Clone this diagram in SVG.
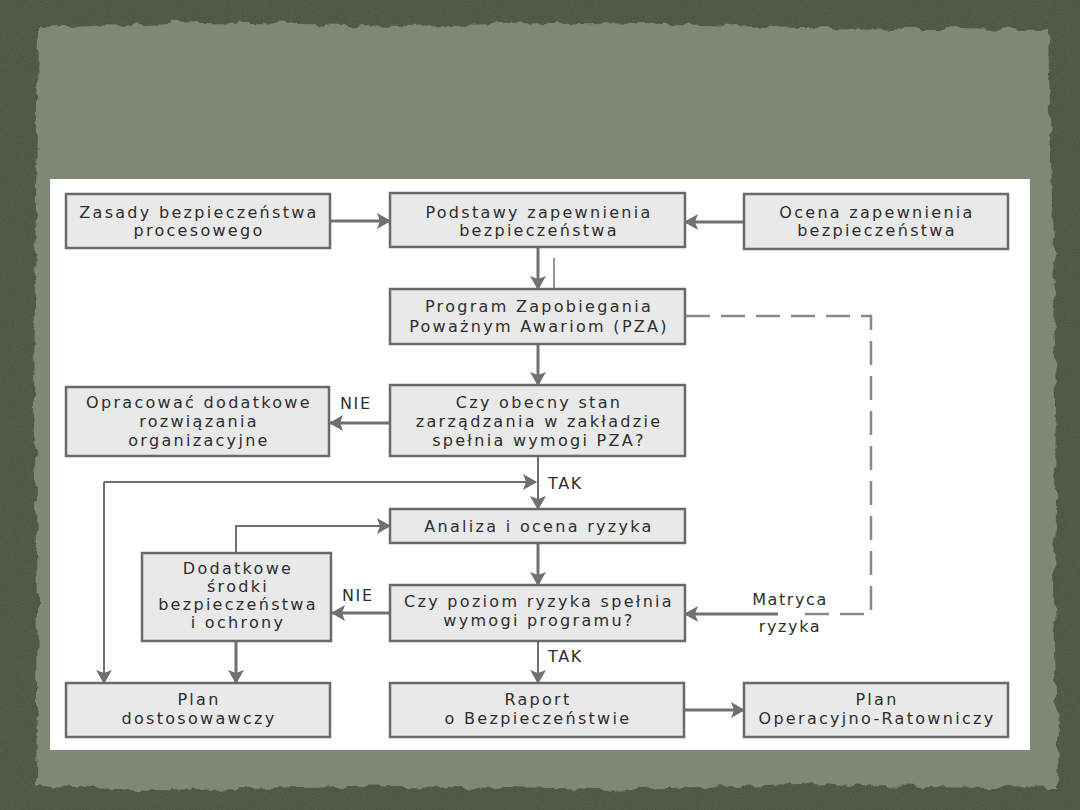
<svg xmlns="http://www.w3.org/2000/svg" width="1080" height="810" viewBox="0 0 1080 810">
<defs>
<filter id="grain" x="0" y="0" width="100%" height="100%">
<feTurbulence type="fractalNoise" baseFrequency="0.9" numOctaves="2" seed="3" result="n"/>
<feColorMatrix in="n" type="matrix" values="0 0 0 0 0  0 0 0 0 0  0 0 0 0 0  0 0 0 0.35 0" result="a"/>
<feComposite in="a" in2="SourceGraphic" operator="in" result="b"/>
<feMerge><feMergeNode in="SourceGraphic"/><feMergeNode in="b"/></feMerge>
</filter>
<filter id="rough" x="-2%" y="-2%" width="104%" height="104%">
<feTurbulence type="fractalNoise" baseFrequency="0.06" numOctaves="3" seed="7" result="t"/>
<feDisplacementMap in="SourceGraphic" in2="t" scale="10" xChannelSelector="R" yChannelSelector="G"/>
</filter>
<marker id="ah" viewBox="0 0 14 16" refX="13" refY="8" markerWidth="14" markerHeight="16" markerUnits="userSpaceOnUse" orient="auto">
<path d="M0,0 L14,8 L0,16 L3,8 z" fill="#707070"/>
</marker>
<style>
.box{fill:#e9e9e9;stroke:#6a6a6a;stroke-width:2.5}
.t{font-family:"DejaVu Sans",sans-serif;font-size:16px;letter-spacing:2.3px;fill:#2e2e2e;text-anchor:middle}
.lb{font-family:"DejaVu Sans",sans-serif;font-size:16px;letter-spacing:1.6px;fill:#2e2e2e}
.c{fill:none;stroke:#707070;stroke-width:3}
.thin{fill:none;stroke:#707070;stroke-width:2}
.dash{fill:none;stroke:#8a8a8a;stroke-width:2.5;stroke-dasharray:24 11}
</style>
</defs>
<g id="background">
<rect x="0" y="0" width="1080" height="810" fill="#5a634e" filter="url(#grain)"/>
<path d="M38,28 L200,22 L400,26 L600,22 L800,28 L1048,30 L1052,200 L1056,400 L1054,600 L1058,788 L800,784 L600,790 L400,786 L200,790 L36,786 L38,600 L34,400 L36,200 Z" fill="#7f8777" filter="url(#rough)"/>
<rect x="50" y="179" width="980" height="571" fill="#ffffff"/>
</g>
<g id="connectors">
<path class="c" d="M330,221 H390" marker-end="url(#ah)"/>
<path class="c" d="M744,222 H685" marker-end="url(#ah)"/>
<path class="c" d="M538,248 V289" marker-end="url(#ah)"/>
<path d="M554,258 V289" stroke="#707070" stroke-width="1.5" fill="none"/>
<path class="c" d="M538,345 V385" marker-end="url(#ah)"/>
<path class="c" d="M390,423 H330" marker-end="url(#ah)"/>
<path class="thin" d="M538,456 V509" marker-end="url(#ah)"/>
<path class="thin" d="M104,482 H536" marker-end="url(#ah)"/>
<path class="thin" d="M104,482 V683" marker-end="url(#ah)"/>
<path class="thin" d="M236,553 V526 H390" marker-end="url(#ah)"/>
<path class="c" d="M538,543 V585" marker-end="url(#ah)"/>
<path class="c" d="M390,613 H332" marker-end="url(#ah)"/>
<path class="thin" d="M538,641 V683" marker-end="url(#ah)"/>
<path class="c" d="M236,641 V683" marker-end="url(#ah)"/>
<path class="c" d="M684,710 H744" marker-end="url(#ah)"/>
<path class="dash" d="M686,316 H871 V614 H795"/>
<path class="c" d="M778,614 H685" marker-end="url(#ah)"/>
<text class="lb" x="340" y="409">NIE</text>
<text class="lb" x="342" y="601">NIE</text>
<text class="lb" x="548" y="489">TAK</text>
<text class="lb" x="548" y="662">TAK</text>
<text class="lb" x="790" y="605" text-anchor="middle">Matryca</text>
<text class="lb" x="790" y="632" text-anchor="middle">ryzyka</text>
</g>
<g id="n-zasady">
<rect class="box" x="66" y="194" width="264" height="54"/>
<text class="t" x="199" y="218">Zasady bezpieczeństwa</text>
<text class="t" x="199" y="236">procesowego</text>
</g>
<g id="n-podstawy">
<rect class="box" x="390" y="193" width="295" height="54"/>
<text class="t" x="539" y="218">Podstawy zapewnienia</text>
<text class="t" x="539" y="236">bezpieczeństwa</text>
</g>
<g id="n-ocena">
<rect class="box" x="744" y="194" width="264" height="55"/>
<text class="t" x="877" y="218">Ocena zapewnienia</text>
<text class="t" x="877" y="236">bezpieczeństwa</text>
</g>
<g id="n-program">
<rect class="box" x="390" y="289" width="295" height="55"/>
<text class="t" x="539" y="312">Program Zapobiegania</text>
<text class="t" x="539" y="332">Poważnym Awariom (PZA)</text>
</g>
<g id="n-czy-obecny">
<rect class="box" x="390" y="385" width="295" height="71"/>
<text class="t" x="539" y="408">Czy obecny stan</text>
<text class="t" x="539" y="427">zarządzania w zakładzie</text>
<text class="t" x="539" y="446">spełnia wymogi PZA?</text>
</g>
<g id="n-opracowac">
<rect class="box" x="66" y="387" width="263" height="69"/>
<text class="t" x="199" y="408">Opracować dodatkowe</text>
<text class="t" x="199" y="427">rozwiązania</text>
<text class="t" x="199" y="446">organizacyjne</text>
</g>
<g id="n-analiza">
<rect class="box" x="390" y="509" width="295" height="34"/>
<text class="t" x="539" y="532">Analiza i ocena ryzyka</text>
</g>
<g id="n-dodatkowe">
<rect class="box" x="142" y="553" width="189" height="88"/>
<text class="t" x="238" y="574">Dodatkowe</text>
<text class="t" x="238" y="592">środki</text>
<text class="t" x="238" y="610">bezpieczeństwa</text>
<text class="t" x="238" y="628">i ochrony</text>
</g>
<g id="n-czy-poziom">
<rect class="box" x="390" y="585" width="295" height="56"/>
<text class="t" x="539" y="607">Czy poziom ryzyka spełnia</text>
<text class="t" x="539" y="626">wymogi  programu?</text>
</g>
<g id="n-plan-dost">
<rect class="box" x="66" y="683" width="264" height="54"/>
<text class="t" x="199" y="705">Plan</text>
<text class="t" x="199" y="724">dostosowawczy</text>
</g>
<g id="n-raport">
<rect class="box" x="390" y="683" width="294" height="54"/>
<text class="t" x="538" y="705">Raport</text>
<text class="t" x="538" y="724">o Bezpieczeństwie</text>
</g>
<g id="n-plan-oper">
<rect class="box" x="744" y="683" width="264" height="54"/>
<text class="t" x="877" y="705">Plan</text>
<text class="t" x="877" y="724">Operacyjno-Ratowniczy</text>
</g>
</svg>
